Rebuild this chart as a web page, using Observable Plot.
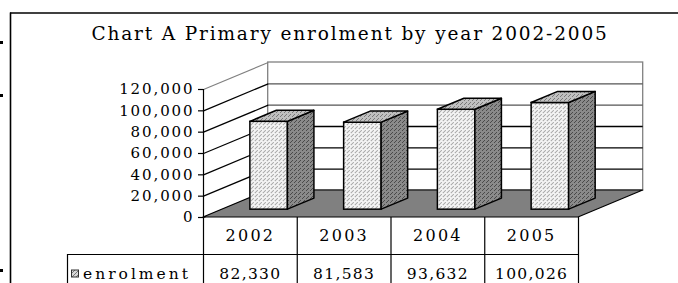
<!DOCTYPE html>
<html>
<head>
<meta charset="utf-8">
<script src="https://cdn.jsdelivr.net/npm/d3@7"></script>
<script src="https://cdn.jsdelivr.net/npm/@observablehq/plot@0.6"></script>
<style>
  html, body { margin: 0; padding: 0; background: #fff; overflow: hidden; }
  svg { display: block; }
</style>
</head>
<body>
<div id="chart"></div>
<script>
// ---- data ----
const title = "Chart A Primary enrolment by year 2002-2005";
const seriesName = "enrolment";
const years = ["2002", "2003", "2004", "2005"];
const enrolment = [82330, 81583, 93632, 100026];
const yTicks = [0, 20000, 40000, 60000, 80000, 100000, 120000];

// ---- layout (pixels) ----
const W = 678, H = 283;
const padL = 203, padR = 578, padB = 217, padT = 89;
const depthPx = [64.7, -27];          // oblique depth vector of the 3D box
const barFront = 0.29, barBack = 0.70; // depth fractions of bars
const barHalf = 0.2;                   // half bar width (category units)
const yMax = yTicks[yTicks.length - 1];

const X = d3.scaleLinear([0, years.length], [padL, padR]);
const Y = d3.scaleLinear([0, yMax], [padB, padT]);
const DXu = X.invert(padL + depthPx[0]);
const DYu = Y.invert(padB + depthPx[1]);
const fmt = d3.format(",");

const bars = years.map((yr, i) => ({yr, v: enrolment[i], xl: i + 0.5 - barHalf, xr: i + 0.5 + barHalf}));
const sideData = bars.flatMap(b => [barFront, barBack].map(f => ({yr: b.yr, x: b.xr + f * DXu, y1: f * DYu, y2: b.v + f * DYu})));
const topData = bars.flatMap(b => [barFront, barBack].map(f => ({yr: b.yr, y: b.v + f * DYu, x1: b.xl + f * DXu, x2: b.xr + f * DXu})));
const floorData = [0, 1].map(f => ({y: f * DYu, x1: f * DXu, x2: years.length + f * DXu}));

const rowTop = 254, headerMid = 235.5, valueMid = 273.5, labelCellLeft = 67;

const plot = Plot.plot({
  width: W, height: H,
  marginLeft: padL, marginRight: W - padR, marginTop: padT, marginBottom: H - padB,
  x: {domain: [0, years.length], range: [padL, padR], axis: null},
  y: {domain: [0, yMax], range: [padB, padT], axis: null},
  style: {fontFamily: "DejaVu Serif", fontSize: "14px", color: "black", background: "white", overflow: "visible"},
  marks: [
    // outer chart border (top & left)
    Plot.ruleY([Y.invert(12.5)], {x1: () => X.invert(10), x2: () => X.invert(W + 5), stroke: "black", strokeWidth: 1.6}),
    Plot.ruleX([X.invert(10)], {y1: () => Y.invert(12.5), y2: () => Y.invert(H + 5), stroke: "black", strokeWidth: 1.6}),
    // left margin marks
    Plot.ruleY([Y.invert(42), Y.invert(95), Y.invert(270)], {x1: () => X.invert(0), x2: () => X.invert(3), stroke: "black", strokeWidth: 3}),
    // title
    Plot.text([title], {frameAnchor: "top", lineAnchor: "middle", dx: -41, dy: -55, fontSize: 18.5, ariaDescription: "title"}),
    // back wall
    Plot.rect([0], {x1: () => 0, x2: () => years.length, y1: () => 0, y2: () => yMax, dx: depthPx[0], dy: depthPx[1], fill: "white", stroke: "#808080", strokeWidth: 1.3}),
    // back wall gridlines
    Plot.ruleY(yTicks.filter(t => t > 0 && t < yMax), {x1: () => 0, x2: () => years.length, dx: depthPx[0], dy: depthPx[1], stroke: t => t >= 80000 ? "#555" : "black", strokeWidth: 1.3}),
    // side wall diagonals
    Plot.link(yTicks, {x1: () => 0, y1: d => d, x2: () => DXu, y2: d => d + DYu, stroke: d => d === yMax ? "#808080" : "black", strokeWidth: 1.2}),
    // floor
    Plot.areaX(floorData, {y: "y", x1: "x1", x2: "x2", fill: "#808080", stroke: "black", strokeWidth: 1.2}),
    // bars
    Plot.rect(bars, {x1: "xl", x2: "xr", y1: () => 0, y2: "v", dx: barFront * depthPx[0], dy: barFront * depthPx[1], fill: "url(#pFront)", stroke: "black", strokeWidth: 1.5}),
    Plot.areaY(sideData, {x: "x", y1: "y1", y2: "y2", z: "yr", fill: "url(#pSide)", stroke: "black", strokeWidth: 1.5}),
    Plot.areaX(topData, {y: "y", x1: "x1", x2: "x2", z: "yr", fill: "url(#pTop)", stroke: "black", strokeWidth: 1.5}),
    // front y axis
    Plot.ruleX([0], {y1: () => 0, y2: () => yMax, stroke: "black", strokeWidth: 1.2}),
    Plot.axisY(yTicks, {tickSize: 5, tickPadding: 4, tickFormat: fmt, stroke: "black", strokeWidth: 1.2}),
    // data table
    Plot.ruleX(d3.range(years.length + 1), {y1: () => 0, y2: () => Y.invert(H + 5), stroke: "black", strokeWidth: 1.2}),
    Plot.ruleY([Y.invert(rowTop)], {x1: () => X.invert(labelCellLeft), x2: () => years.length, stroke: "black", strokeWidth: 1.2}),
    Plot.ruleX([X.invert(labelCellLeft)], {y1: () => Y.invert(rowTop), y2: () => Y.invert(H + 5), stroke: "black", strokeWidth: 1.2}),
    Plot.text(years, {x: (d, i) => i + 0.5, y: () => Y.invert(headerMid), fontSize: 16, ariaDescription: "header"}),
    Plot.text(enrolment, {x: (d, i) => i + 0.5, y: () => Y.invert(valueMid), text: d => fmt(d), fontSize: 15.5, ariaDescription: "values"}),
    Plot.rect([0], {x1: () => X.invert(71.5), x2: () => X.invert(78.5), y1: () => Y.invert(277), y2: () => Y.invert(270), fill: "url(#pKey)", stroke: "#333", strokeWidth: 1}),
    Plot.text([seriesName], {x: () => X.invert(82.5), y: () => Y.invert(valueMid), textAnchor: "start", fontSize: 15.5, ariaDescription: "label"})
  ]
});

// patterns for the 3D faces
const svg = d3.select(plot);
const defs = svg.insert("defs", ":first-child");
function pattern(id, bg, dot, pts) {
  const p = defs.append("pattern").attr("id", id).attr("patternUnits", "userSpaceOnUse").attr("width", 4).attr("height", 4);
  p.append("rect").attr("width", 4).attr("height", 4).attr("fill", bg);
  pts.forEach(([x, y]) => p.append("rect").attr("x", x).attr("y", y).attr("width", 1).attr("height", 1).attr("fill", dot));
}
pattern("pFront", "#f4f4f4", "#8a8a8a", [[0, 0], [2, 2], [1, 3]]);
pattern("pKey", "#d8d8d8", "#777", [[0, 0], [2, 2], [1, 3], [3, 1]]);
pattern("pTop", "#c0c0c0", "#7a7a7a", [[0, 0], [2, 2], [1, 3]]);
pattern("pSide", "#8a8a8a", "#4a4a4a", [[0, 0], [2, 2], [3, 1]]);

// wide-set lettering like the original
function spacing(sel, px) { svg.selectAll(sel).style("letter-spacing", px); }
spacing('[aria-description="title"]', "1.85px");
svg.selectAll('[aria-label="y-axis tick label"], [aria-label="y-axis tick label"] text')
  .style("font-size", "15px").style("letter-spacing", "1.9px");
spacing('[aria-description="header"]', "2.3px");
spacing('[aria-description="values"]', "1.3px");
spacing('[aria-description="label"]', "3px");

document.getElementById("chart").append(plot);
</script>
</body>
</html>
